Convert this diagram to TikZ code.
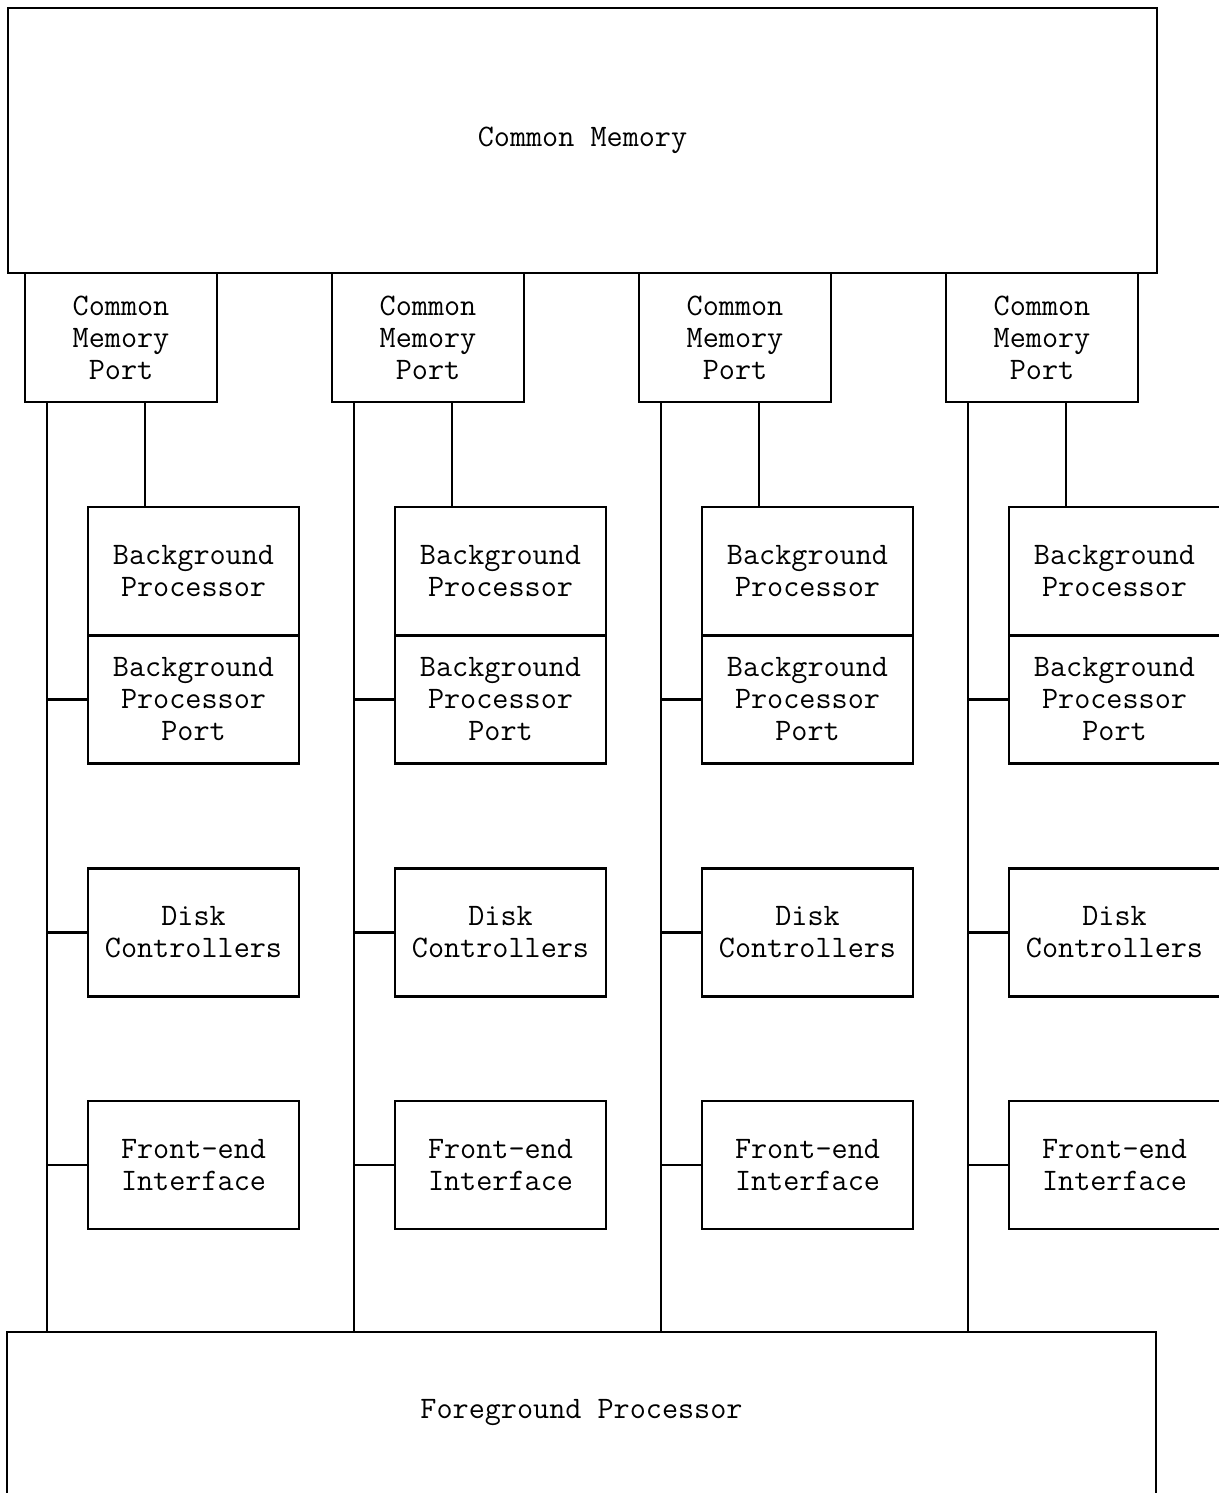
\documentclass[tikz,border=0pt]{standalone}
\usepackage{fontspec}
\usepackage{tikz}
\tikzstyle{unit}=[draw, line width=1.2pt, align=center, inner sep=0pt,
	font=\ttfamily\fontsize{17.8}{18.2}\selectfont]
\tikzstyle{board}=[unit, minimum width=4.22cm, minimum height=2.56cm]
\tikzstyle{port}=[unit, minimum width=3.84cm, minimum height=2.58cm]
\tikzstyle{bus}=[line width=1.2pt]

\begin{document}
\begin{tikzpicture}[x=0.02cm, y=-0.02cm]
	\useasboundingbox (0,0) rectangle (1219,1493);

	% Memory on top, foreground processor at the bottom
	\node[unit, minimum width=22.98cm, minimum height=5.3cm] (cm) at (582.5,140.5) {Common Memory};
	\node[unit, draw=none, minimum width=22.94cm, minimum height=3.2cm] (fg) at (581.5,1413) {Foreground Processor};
	\draw[bus] (fg.south west) -- (fg.north west) -- (fg.north east) -- (fg.south east);

	% One column per memory port
	\foreach \i/\x in {0/0, 1/307, 2/614, 3/921}{
		\node[port] (port\i) at (121+\x,337.5) {Common\\Memory\\Port};

		\node[board] (bp\i)   at (193.5+\x,571)   {Background\\Processor};
		\node[board] (bpp\i)  at (193.5+\x,699.5) {Background\\Processor\\Port};
		\node[board] (disk\i) at (193.5+\x,932.5) {Disk\\Controllers};
		\node[board] (fe\i)   at (193.5+\x,1165)  {Front-end\\Interface};

		\coordinate (bus\i) at (47+\x,402);
		\coordinate (link\i) at (145+\x,402);

		\draw[bus] (link\i) -- (link\i |- bp\i.north);
		\draw[bus] (bus\i) -- (bus\i |- fg.north);
		\draw[bus] (bus\i |- bpp\i.west) -- (bpp\i.west);
		\draw[bus] (bus\i |- disk\i.west) -- (disk\i.west);
		\draw[bus] (bus\i |- fe\i.west) -- (fe\i.west);
	}
\end{tikzpicture}
\end{document}
